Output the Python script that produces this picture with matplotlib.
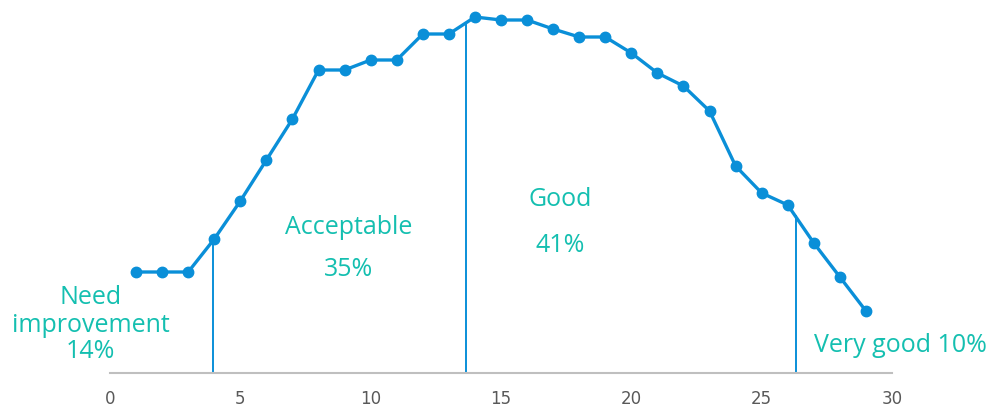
import matplotlib.pyplot as plt

# data
x = list(range(1, 30))
y = [10.1, 10.1, 10.1, 13.4, 17.2, 21.3, 25.4, 30.3, 30.3, 31.3,
     31.3, 33.9, 33.9, 35.6, 35.3, 35.3, 34.4, 33.6, 33.6, 32.0,
     30.0, 28.7, 26.2, 20.7, 18.0, 16.8, 13.0, 9.6, 6.2]

# band borders and their top (where they meet the curve)
borders = [3.95, 13.66, 26.3]
border_tops = [13.3, 35.0, 15.8]

labels = ["Need", "improvement", "14%", "Acceptable", "35%", "Good", "41%", "Very good 10%"]
label_x = [-0.75, -0.75, -0.75, 9.17, 9.17, 17.26, 17.26, 30.34]
label_y = [7.5, 4.7, 2.1, 14.6, 10.3, 17.3, 12.8, 2.7]

blue = '#0A8FD8'
teal = '#14BFB0'

fig = plt.figure(figsize=(9.93, 4.08), dpi=100)
ax = fig.add_axes([110 / 993, 1 - 373 / 408, 782 / 993, 373 / 408])

ax.vlines(borders, 0, border_tops, color=blue, lw=1.4)
ax.plot(x, y, color=blue, lw=2.4, marker='o', ms=7.5, clip_on=False, zorder=3)

for t, tx, ty in zip(labels, label_x, label_y):
    ax.text(tx, ty, t, color=teal, fontsize=18, ha='center', va='center',
            family='Open Sans')

ax.set_xlim(0, 30)
ax.set_ylim(0, 37.3)
ax.set_xticks(range(0, 31, 5))
ax.set_yticks([])
for s in ['top', 'right', 'left']:
    ax.spines[s].set_visible(False)
ax.spines['bottom'].set_color('#BFBFBF')
ax.spines['bottom'].set_linewidth(1.5)
ax.tick_params(axis='x', length=0, pad=12, labelsize=12, labelcolor='#595959')

fig.savefig('out.png', dpi=100)
